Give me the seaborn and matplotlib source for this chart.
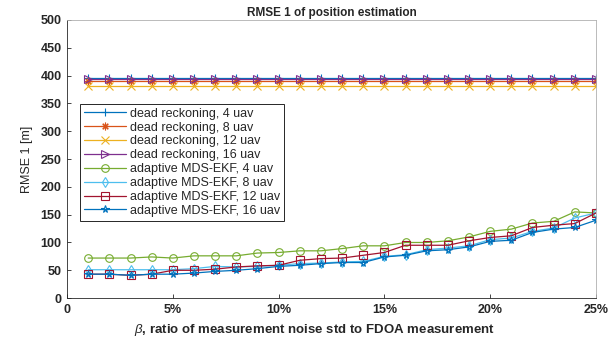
import matplotlib
matplotlib.use("Agg")
import matplotlib.pyplot as plt
import seaborn as sns
import numpy as np

# beta in percent, 1..25
beta = [1, 2, 3, 4, 5, 6, 7, 8, 9, 10, 11, 12, 13, 14, 15, 16, 17, 18, 19, 20, 21, 22, 23, 24, 25]

dr_4 = [395] * 25
dr_8 = [390] * 25
dr_12 = [381] * 25
dr_16 = [394] * 25

mds_4 = [72, 72, 72, 74, 72, 76, 76, 76, 81, 82, 85, 85, 89, 94, 94,
         100, 100, 103, 110, 120, 124, 135, 138, 155, 153]
mds_8 = [51, 51, 51, 51, 51, 53, 57, 56, 57, 59, 62, 63, 65, 66, 75,
         78, 87, 90, 94, 105, 108, 120, 126, 144, 153]
mds_12 = [43, 43, 41, 43, 50, 50, 52, 56, 58, 59, 68, 71, 72, 77, 82,
          95, 95, 95, 103, 109, 112, 127, 131, 134, 153]
mds_16 = [43, 43, 41, 43, 43, 45, 48, 50, 53, 57, 59, 62, 64, 64, 74,
          77, 85, 87, 92, 102, 104, 118, 124, 127, 140]

labels = ["dead reckoning, 4 uav", "dead reckoning, 8 uav",
          "dead reckoning, 12 uav", "dead reckoning, 16 uav",
          "adaptive MDS-EKF, 4 uav", "adaptive MDS-EKF, 8 uav",
          "adaptive MDS-EKF, 12 uav", "adaptive MDS-EKF, 16 uav"]
series = [dr_4, dr_8, dr_12, dr_16, mds_4, mds_8, mds_12, mds_16]

# MATLAB default line colours
colors = ["#0072BD", "#D95319", "#EDB120", "#7E2F8E",
          "#77AC30", "#4DBEEE", "#A2142F", "#0072BD"]
markers = ["+", (8, 2, 0), "x", ">", "o", "d", "s", "*"]

sns.set_style("ticks")
plt.rcParams["font.family"] = ["Liberation Sans", "DejaVu Sans"]
plt.rcParams["mathtext.fontset"] = "custom"
plt.rcParams["mathtext.it"] = "Liberation Sans:italic"

fig = plt.figure(figsize=(6.15, 3.38), dpi=100)
ax = fig.add_axes([0.109, 0.118, 0.860, 0.823])

for vals, lab, col, mk in zip(series, labels, colors, markers):
    sns.lineplot(x=beta, y=vals, ax=ax, color=col, marker=mk, label=lab,
                 markersize=5.5, markerfacecolor="none", markeredgecolor=col,
                 markeredgewidth=0.8, linewidth=0.9)

ax.set_xlim(0, 25)
ax.set_ylim(0, 500)
ax.set_xticks([0, 5, 10, 15, 20, 25])
ax.set_xticklabels(["0", "5%", "10%", "15%", "20%", "25%"])
ax.set_yticks(np.arange(0, 501, 50))
ax.tick_params(direction="in", length=3, width=0.6, labelsize=9, colors="#262626", pad=4)
for lbl in ax.get_xticklabels() + ax.get_yticklabels():
    lbl.set_fontweight("bold")
for side in ["top", "right"]:
    ax.spines[side].set_visible(True)
    ax.spines[side].set_color("#b0b0b0")
for side in ["left", "bottom"]:
    ax.spines[side].set_color("#262626")
for sp in ax.spines.values():
    sp.set_linewidth(0.6)

ax.set_title("RMSE 1 of position estimation", fontsize=8.5, fontweight="bold", pad=3)
ax.set_ylabel("RMSE 1 [m]", fontsize=9, labelpad=5)
ax.set_xlabel(r"$\it{\beta}$, ratio of measurement noise std to FDOA measurement",
              fontsize=9.5, fontweight="bold")
ax.xaxis.set_label_coords(0.467, -0.085)

leg = ax.legend(loc="upper left", bbox_to_anchor=(0.0246, 0.698), fontsize=9,
                frameon=True, fancybox=False, framealpha=1, edgecolor="#262626",
                borderpad=0.3, labelspacing=0.15, handlelength=3.4,
                handletextpad=0.3, borderaxespad=0)
leg.get_frame().set_linewidth(0.7)

fig.savefig("out.png", dpi=100)
